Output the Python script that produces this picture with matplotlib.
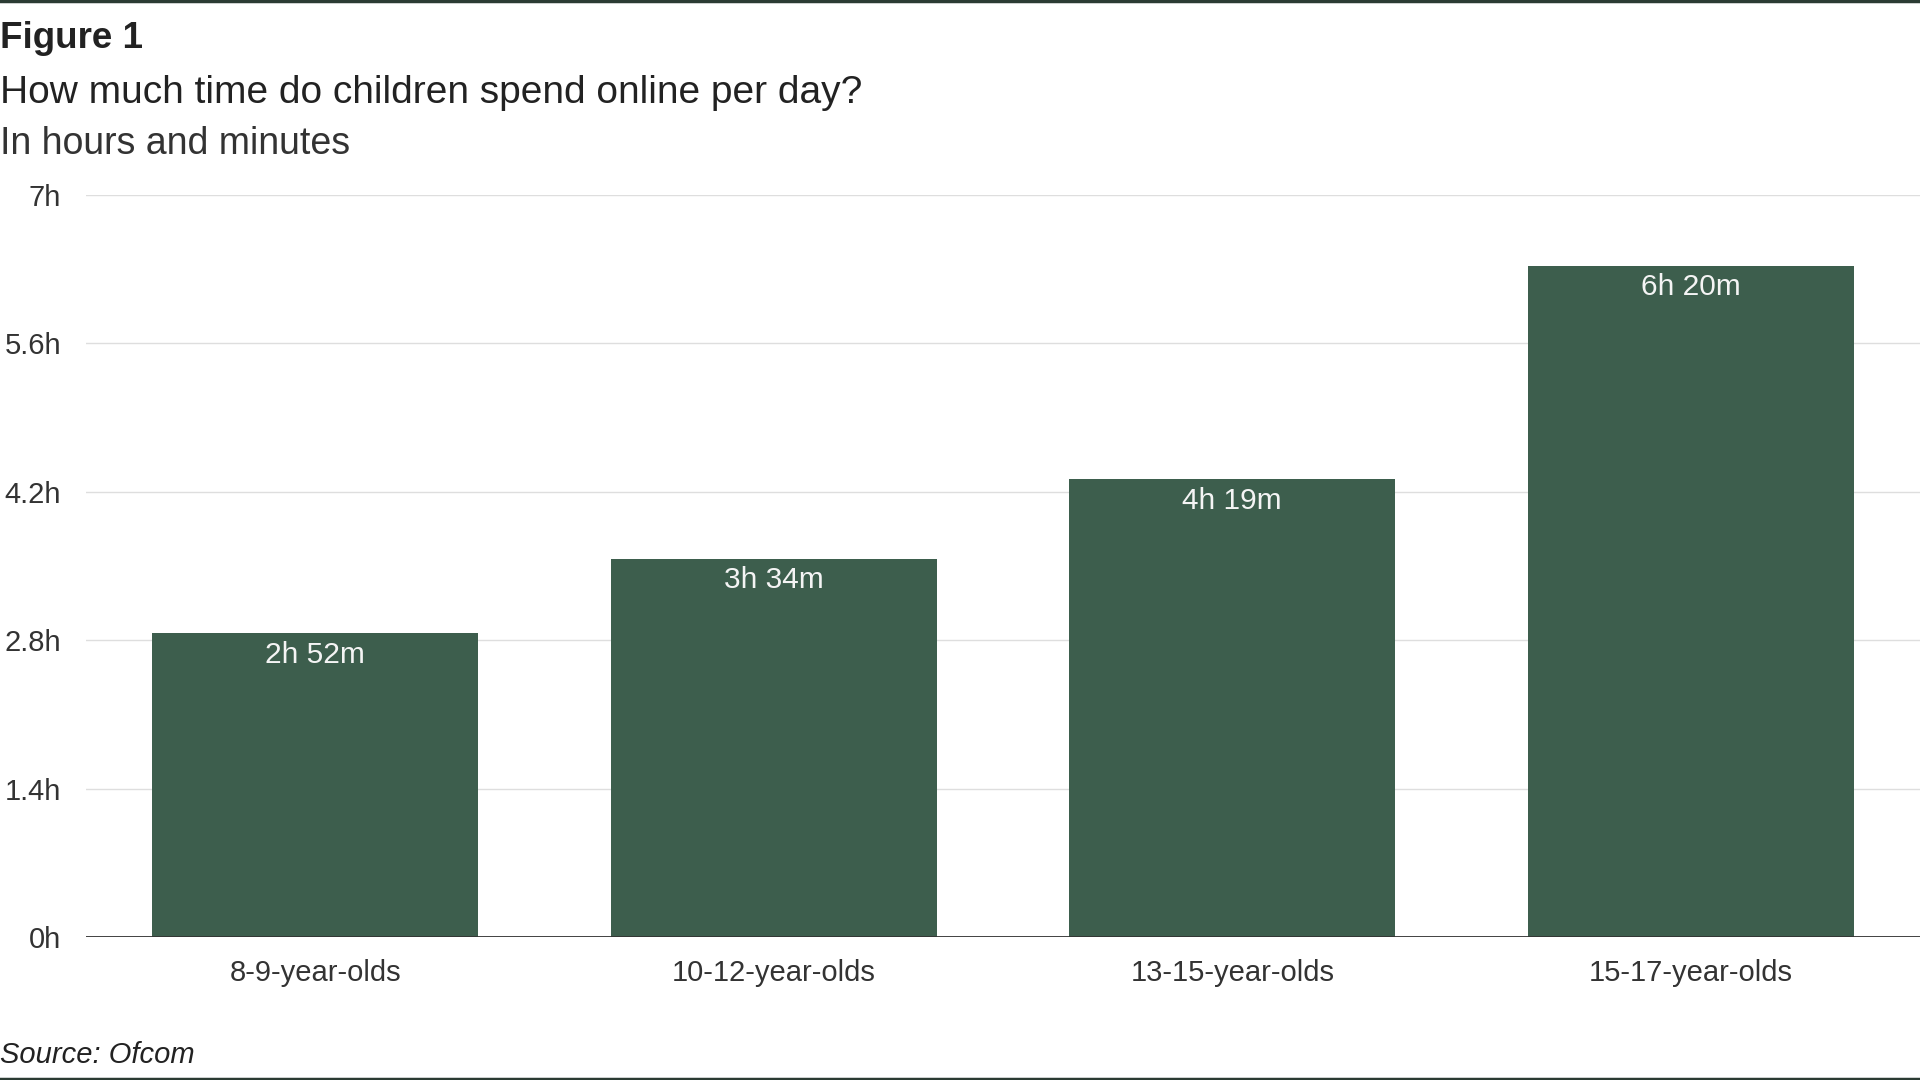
import matplotlib
matplotlib.use("Agg")
import matplotlib.pyplot as plt
from matplotlib.lines import Line2D

# data
groups = ["8-9-year-olds", "10-12-year-olds", "13-15-year-olds", "15-17-year-olds"]
hours = [2, 3, 4, 6]
minutes = [52, 34, 19, 20]
y_ticks = [0, 1.4, 2.8, 4.2, 5.6, 7]
y_tick_labels = ["0h", "1.4h", "2.8h", "4.2h", "5.6h", "7h"]

BAR = "#3d5e4d"
DARK = "#222222"
FONT = ["Liberation Sans", "DejaVu Sans"]

plt.rcParams["font.family"] = FONT

values = [h + m / 60 for h, m in zip(hours, minutes)]
labels = [f"{h}h {m}m" for h, m in zip(hours, minutes)]

fig = plt.figure(figsize=(19.2, 10.8), dpi=100, facecolor="white")
ax = fig.add_axes([0.0448, 0.1324, 0.9552, 0.687])

x = list(range(len(groups)))
bars = ax.bar(x, values, width=0.712, color=BAR, zorder=3)

for rect, lab in zip(bars, labels):
    ax.annotate(lab, (rect.get_x() + rect.get_width() / 2, rect.get_height()),
                xytext=(0, -15.5), textcoords="offset points",
                ha="center", va="center", fontsize=21.5, color="#f4f4f4", zorder=4)

ax.set_xlim(-0.5, 3.5)
ax.set_ylim(0, 7)
ax.set_yticks(y_ticks)
ax.set_yticklabels(y_tick_labels)
ax.set_xticks(x)
ax.set_xticklabels(groups)
ax.tick_params(axis="y", length=0, pad=18, labelsize=21, labelcolor="#333333")
ax.tick_params(axis="x", length=0, pad=16, labelsize=21, labelcolor="#333333")

ax.grid(axis="y", color="#dedede", linewidth=1.0, zorder=0)
ax.axhline(0, color="#333333", linewidth=1.3, zorder=5)
for side in ["top", "right", "left", "bottom"]:
    ax.spines[side].set_visible(False)

# headings
fig.text(0.0, 0.956, "Figure 1", fontsize=26.5, fontweight="bold", color=DARK, ha="left", va="baseline")
fig.text(0.0, 0.905, "How much time do children spend online per day?", fontsize=28,
         color=DARK, ha="left", va="baseline")
fig.text(0.0, 0.857, "In hours and minutes", fontsize=27, color="#333333",
         ha="left", va="baseline")
fig.text(0.0, 0.016, "Source: Ofcom", fontsize=21, style="italic", color=DARK,
         ha="left", va="baseline")

# border lines top and bottom
fig.add_artist(Line2D([0, 1], [0.999, 0.999], transform=fig.transFigure, color="#2b3b33", linewidth=2.5))
fig.add_artist(Line2D([0, 1], [0.001, 0.001], transform=fig.transFigure, color="#2b3b33", linewidth=2.5))

fig.savefig("out.png", dpi=100, facecolor="white")
